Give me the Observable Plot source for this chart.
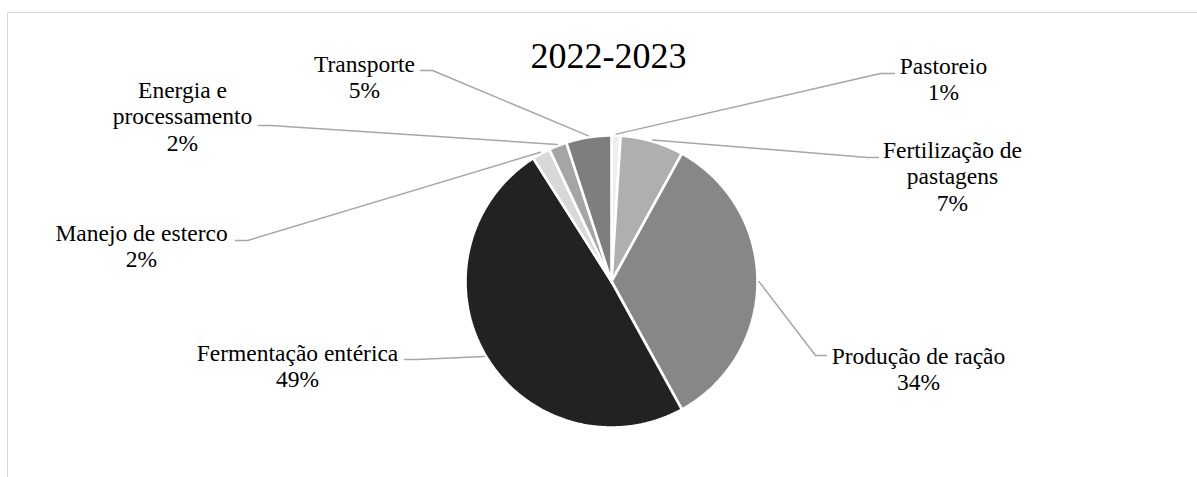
<!DOCTYPE html>
<html><head><meta charset="utf-8">
<script src="https://cdn.jsdelivr.net/npm/d3@7"></script>
<script src="https://cdn.jsdelivr.net/npm/@observablehq/plot@0.6"></script>
<style>
html,body{margin:0;padding:0;background:#fff;}
#wrap{position:relative;width:1197px;height:477px;overflow:hidden;}
#border{position:absolute;left:7px;top:12px;width:1200px;height:480px;border-top:1.3px solid #d9d9d9;border-left:1.3px solid #d9d9d9;pointer-events:none;box-sizing:border-box;}
svg{display:block;}
</style></head><body>
<div id="wrap"><div id="border"></div></div>
<script>
// ---- data ----
const title = "2022-2023";
const categories = ["Pastoreio", "Fertilização de pastagens", "Produção de ração", "Fermentação entérica", "Manejo de esterco", "Energia e processamento", "Transporte"];
const shares = [1, 7, 34, 49, 2, 2, 5];
const sliceColors = ["#eeeeee", "#afafaf", "#878787", "#222222", "#d8d8d8", "#a5a5a5", "#7e7e7e"];

// ---- layout (pixels) ----
const W = 1197, H = 477, CX = 611, CY = 281, R = 146;
const FONT = 23.5, LINE = 26.5;
const SERIF = "Liberation Serif, DejaVu Serif";
const labelWrap = [["Pastoreio"], ["Fertilização de", "pastagens"], ["Produção de ração"], ["Fermentação entérica"], ["Manejo de esterco"], ["Energia e", "processamento"], ["Transporte"]];
// text center x, first baseline y, leader start (lx, ly), elbow x
const labelPos = [
  {tx: 943, ty: 73, lx: 894, ly: 73, ex: 880},
  {tx: 952, ty: 157, lx: 878, ly: 157, ex: 867},
  {tx: 918, ty: 363, lx: 826, ly: 355, ex: 815},
  {tx: 297, ty: 360, lx: 404, ly: 359, ex: 416},
  {tx: 141, ty: 240, lx: 235, ly: 240, ex: 247},
  {tx: 182, ty: 97, lx: 258, ly: 125, ex: 270},
  {tx: 364, ty: 71, lx: 420, ly: 70, ex: 432}
];
const titlePos = {tx: 608, ty: 67};

// pixel -> pie units
const ux = px => (px - CX) / R;
const uy = py => (CY - py) / R;

const arcs = d3.pie().sort(null).value(d => d)(shares);
const slices = arcs.map((a, i) => {
  const pts = [{x: 0, y: 0}];
  const n = Math.max(4, Math.ceil((a.endAngle - a.startAngle) / 0.01));
  for (let k = 0; k <= n; k++) {
    const t = a.startAngle + (a.endAngle - a.startAngle) * k / n;
    pts.push({x: Math.sin(t), y: Math.cos(t)});
  }
  pts.push({x: 0, y: 0});
  return pts;
});

const leaders = [];
arcs.forEach((a, i) => {
  const m = (a.startAngle + a.endAngle) / 2;
  const p = labelPos[i];
  leaders.push({name: categories[i], x: ux(p.lx), y: uy(p.ly)});
  leaders.push({name: categories[i], x: ux(p.ex), y: uy(p.ly)});
  leaders.push({name: categories[i], x: 1.01 * Math.sin(m), y: 1.01 * Math.cos(m)});
});

const textRows = [];
categories.forEach((c, i) => {
  const lines = [...labelWrap[i], `${shares[i]}%`];
  lines.forEach((t, j) => textRows.push({text: t, x: ux(labelPos[i].tx), y: uy(labelPos[i].ty + j * LINE)}));
});

const chart = Plot.plot({
  width: W, height: H,
  margin: 0,
  x: {domain: [ux(0), ux(W)], range: [0, W], axis: null},
  y: {domain: [uy(H), uy(0)], range: [H, 0], axis: null},
  style: {background: "transparent", color: "#000"},
  marks: [
    ...slices.map((pts, i) => Plot.line(pts, {x: "x", y: "y", fill: sliceColors[i], stroke: "white", strokeWidth: 2.6, strokeLinejoin: "miter"})),
    Plot.line(leaders, {x: "x", y: "y", z: "name", stroke: "#a6a6a6", strokeWidth: 1.5}),
    Plot.text(textRows, {x: "x", y: "y", text: "text", textAnchor: "middle", lineAnchor: "bottom", fontSize: FONT, fontFamily: SERIF, fill: "#000"}),
    Plot.text([title], {x: () => ux(titlePos.tx), y: () => uy(titlePos.ty), text: d => d, textAnchor: "middle", lineAnchor: "bottom", fontSize: 36, fontFamily: SERIF, fill: "#000"})
  ]
});
document.getElementById("wrap").prepend(chart);
</script>
</body></html>
